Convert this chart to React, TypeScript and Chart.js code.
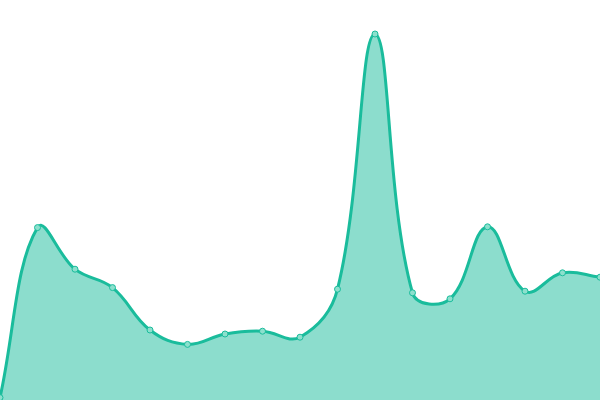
import React, { useEffect, useRef } from "react";
import { Chart, registerables } from "chart.js";

Chart.register(...registerables);

const labels = ["1", "2", "3", "4", "5", "6", "7", "8", "9", "10", "11", "12", "13", "14", "15", "16", "17"];
const values = [0.6, 43.1, 32.7, 28.1, 17.5, 13.9, 16.5, 17.2, 15.7, 27.7, 91.5, 26.8, 25.3, 43.3, 27.2, 31.8, 30.7];
const yMin = 0;
const yMax = 100;

export default function App() {
  const ref = useRef<HTMLCanvasElement | null>(null);
  useEffect(() => {
    document.body.style.margin = "0";
    if (!ref.current) return;
    const chart = new Chart(ref.current, {
      type: "line",
      data: {
        labels,
        datasets: [
          {
            data: values,
            borderColor: "#1abc9c",
            backgroundColor: "rgba(26,188,156,0.5)",
            borderWidth: 3,
            fill: true,
            tension: 0.4,
            pointRadius: 3,
            pointBorderWidth: 1,
            pointBackgroundColor: "rgba(140,224,205,1)",
            pointBorderColor: "#1abc9c",
          },
        ],
      },
      options: {
        animation: false,
        responsive: false,
        maintainAspectRatio: false,
        layout: { padding: 0, autoPadding: false },
        plugins: { legend: { display: false }, tooltip: { enabled: false } },
        scales: {
          x: { display: false, offset: false },
          y: { display: false, min: yMin, max: yMax },
        },
      },
    });
    return () => chart.destroy();
  }, []);
  return (
    <div style={{ position: "fixed", left: 0, top: 0, width: 600, height: 400 }}>
      <canvas ref={ref} width={600} height={400} style={{ width: 600, height: 400, display: "block" }} />
    </div>
  );
}
